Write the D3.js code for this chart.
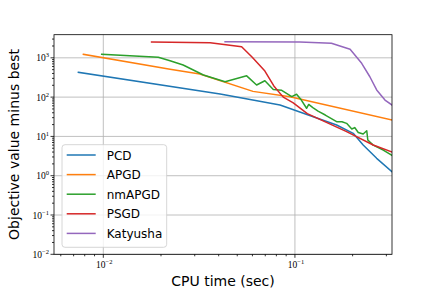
<!DOCTYPE html>
<html>
<head>
<meta charset="utf-8">
<script src="https://cdn.jsdelivr.net/npm/d3@7"></script>
<style>
  body { margin: 0; background: #fff; }
  svg { display: block; }
</style>
</head>
<body>
<svg id="chart" width="436" height="291"></svg>
<script>
// values (time in sec, objective minus best)
const pcdT = [0.00741, 0.0407, 0.0836, 0.1246, 0.165, 0.2014, 0.227, 0.267, 0.321];
const pcdV = [428, 120, 63, 31.7, 19.5, 12.0, 6.04, 2.77, 1.26];

const apgdT = [0.00787, 0.0223, 0.0319, 0.0604, 0.0942, 0.321];
const apgdV = [1228, 509, 387, 140, 102, 26];

const nmapgdT = [0.00981, 0.01936, 0.0223, 0.0261, 0.0333, 0.0432, 0.056, 0.0631, 0.0697, 0.0771,
  0.0853, 0.0962, 0.102, 0.108, 0.115, 0.118, 0.124, 0.132, 0.144, 0.165, 0.176, 0.186,
  0.198, 0.205, 0.214, 0.227, 0.237, 0.24, 0.256, 0.289, 0.321];
const nmapgdV = [1228, 1031, 843, 656, 365, 247, 348, 203, 261, 156,
  149, 103, 118, 84, 52, 65, 54, 44, 35, 23.7, 23.7, 21.5,
  15.4, 16.8, 12.6, 11.5, 13.9, 8.1, 6.0, 4.5, 3.27];

const psgdT = [0.01786, 0.0361, 0.0527, 0.0597, 0.0697, 0.0776, 0.0869, 0.098, 0.116, 0.186, 0.256, 0.321];
const psgdV = [2523, 2421, 1920, 1047, 461, 192, 100, 71, 38, 13.2, 6.04, 4.0];

const katT = [0.0432, 0.106, 0.155, 0.194, 0.223, 0.246, 0.267, 0.295, 0.321];
const katV = [2570, 2523, 2338, 1644, 725, 330, 152, 84, 63];

const seriesNames = ["PCD", "APGD", "nmAPGD", "PSGD", "Katyusha"];
const seriesColors = ["#1f77b4", "#ff7f0e", "#2ca02c", "#d62728", "#9467bd"];
const xTickExps = [-2, -1];
const yTickExps = [-2, -1, 0, 1, 2, 3];

const seriesT = [pcdT, apgdT, nmapgdT, psgdT, katT];
const seriesV = [pcdV, apgdV, nmapgdV, psgdV, katV];

const svg = d3.select("#chart");
const pLeft = 54, pRight = 392, pTop = 34.7, pBottom = 254.3;

const x = d3.scaleLog().domain([0.00553, 0.321]).range([pLeft, pRight]);
const y = d3.scaleLog().domain([0.01, 3875]).range([pBottom, pTop]);

// clip for lines
svg.append("defs").append("clipPath").attr("id", "clip")
  .append("rect").attr("x", pLeft).attr("y", pTop)
  .attr("width", pRight - pLeft).attr("height", pBottom - pTop);

// grid
const grid = svg.append("g");
xTickExps.forEach(e => {
  grid.append("line")
    .attr("x1", x(Math.pow(10, e))).attr("x2", x(Math.pow(10, e)))
    .attr("y1", pTop).attr("y2", pBottom)
    .attr("stroke", "#b0b0b0").attr("stroke-width", 0.8);
});
yTickExps.forEach(e => {
  grid.append("line")
    .attr("x1", pLeft).attr("x2", pRight)
    .attr("y1", y(Math.pow(10, e))).attr("y2", y(Math.pow(10, e)))
    .attr("stroke", "#b0b0b0").attr("stroke-width", 0.8);
});

// lines
const line = d3.line().x(d => x(d[0])).y(d => y(d[1]));
const lines = svg.append("g").attr("clip-path", "url(#clip)");
seriesNames.forEach((name, i) => {
  const pts = seriesT[i].map((t, j) => [t, seriesV[i][j]]);
  lines.append("path")
    .attr("d", line(pts))
    .attr("fill", "none")
    .attr("stroke", seriesColors[i])
    .attr("stroke-width", 1.5)
    .attr("stroke-linejoin", "round")
    .attr("stroke-linecap", "square");
});

// minor + major ticks
const ticks = svg.append("g").attr("stroke", "#000").attr("stroke-width", 0.8);
const [xd0, xd1] = x.domain();
for (let e = -3; e <= 0; e++) {
  for (let m = 1; m <= 9; m++) {
    const v = m * Math.pow(10, e);
    if (v < xd0 || v > xd1) continue;
    const len = m === 1 ? 3.5 : 2;
    ticks.append("line").attr("x1", x(v)).attr("x2", x(v))
      .attr("y1", pBottom).attr("y2", pBottom + len);
  }
}
for (let e = -2; e <= 3; e++) {
  for (let m = 1; m <= 9; m++) {
    const v = m * Math.pow(10, e);
    if (v < 0.01 || v > 3875) continue;
    const len = m === 1 ? 3.5 : 2;
    ticks.append("line").attr("x1", pLeft - len).attr("x2", pLeft)
      .attr("y1", y(v)).attr("y2", y(v));
  }
}

// tick labels
function powLabel(g, e, px, py, anchor) {
  const t = g.append("text")
    .attr("x", px).attr("y", py)
    .attr("text-anchor", anchor)
    .attr("font-family", "'Liberation Serif', 'DejaVu Serif', serif")
    .attr("font-size", 9.5)
    .attr("fill", "#000");
  t.append("tspan").text("10");
  t.append("tspan").attr("dy", -4).attr("font-size", 6.5).text(e < 0 ? "\u2212" + (-e) : e);
}
const labels = svg.append("g");
xTickExps.forEach(e => powLabel(labels, e, x(Math.pow(10, e)) + 1, pBottom + 13.5, "middle"));
yTickExps.forEach(e => powLabel(labels, e, pLeft - 5, y(Math.pow(10, e)) + 3.5, "end"));

// frame
svg.append("rect")
  .attr("x", pLeft).attr("y", pTop)
  .attr("width", pRight - pLeft).attr("height", pBottom - pTop)
  .attr("fill", "none").attr("stroke", "#000").attr("stroke-width", 0.8);

// axis titles
svg.append("text")
  .attr("x", (pLeft + pRight) / 2).attr("y", 286)
  .attr("text-anchor", "middle")
  .attr("font-family", "'DejaVu Sans', sans-serif")
  .attr("font-size", 14)
  .text("CPU time (sec)");
svg.append("text")
  .attr("transform", `translate(19,${(pTop + pBottom) / 2}) rotate(-90)`)
  .attr("text-anchor", "middle")
  .attr("font-family", "'DejaVu Sans', sans-serif")
  .attr("font-size", 14)
  .text("Objective value minus best");

// legend
const lg = svg.append("g");
lg.append("rect")
  .attr("x", 62).attr("y", 144.7)
  .attr("width", 104.7).attr("height", 102.6)
  .attr("rx", 3)
  .attr("fill", "#fff").attr("fill-opacity", 0.8)
  .attr("stroke", "#cccccc").attr("stroke-width", 0.8);
seriesNames.forEach((name, i) => {
  const ry = 155 + i * 19.6;
  lg.append("line")
    .attr("x1", 66.7).attr("x2", 95.7)
    .attr("y1", ry).attr("y2", ry)
    .attr("stroke", seriesColors[i]).attr("stroke-width", 1.5);
  lg.append("text")
    .attr("x", 106.7).attr("y", ry + 4.5)
    .attr("font-family", "'DejaVu Sans', sans-serif")
    .attr("font-size", 12)
    .text(name);
});
</script>
</body>
</html>
